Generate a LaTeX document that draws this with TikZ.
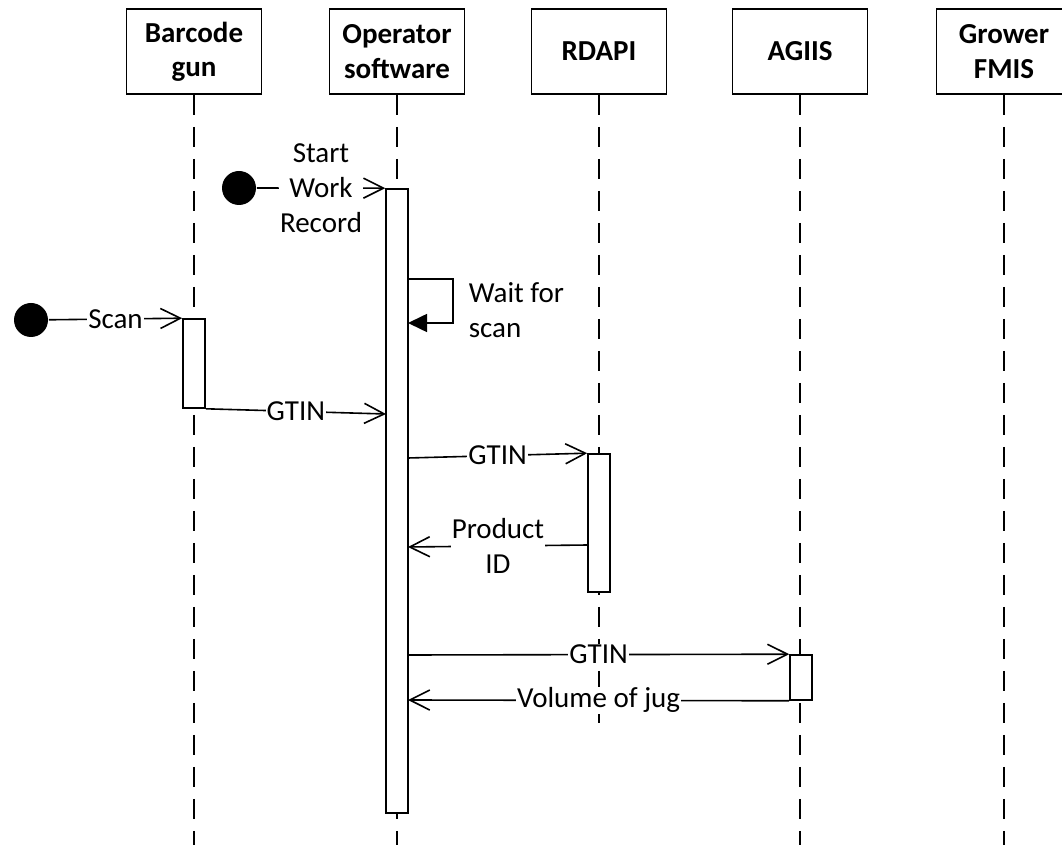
\documentclass[tikz,border=0pt]{standalone}
\usepackage{fontspec}
\setmainfont{Carlito}
\usetikzlibrary{arrows.meta}
\usetikzlibrary{fit}

\begin{document}
\begin{tikzpicture}[x=0.5pt,y=-0.5pt,
  font=\fontsize{14.5}{17.7}\selectfont,
  line width=0.8pt,
  head/.style={draw,fill=white,minimum width=67.5pt,minimum height=42.5pt,align=center,inner sep=0pt,font=\fontsize{14.5}{17.2}\selectfont\bfseries},
  lifeline/.style={dash pattern=on 10pt off 6pt},
  actbar/.style={draw,fill=white,inner sep=0pt},
  msg/.style={-{Straight Barb[length=10pt,width=10pt]}},
  selfmsg/.style={-{Triangle[length=9.5pt,width=9pt]}},
  lbl/.style={fill=white,inner sep=0.5pt,align=center},
  dot/.style={circle,fill=black,minimum size=17pt,inner sep=0pt}]

\clip (0,0) rectangle (1062,845);

\node[head] (bgun) at (194,51.5) {Barcode\\gun};
\node[head] (opsw) at (397,51.5) {Operator\\software};
\node[head] (rdapi) at (599,51.5) {RDAPI};
\node[head] (agiis) at (800,51.5) {AGIIS};
\node[head] (fmis) at (1004,51.5) {Grower\\FMIS};

\coordinate (bot) at (0,845);
\coordinate (rdend) at (0,732);
\draw[lifeline] (bgun.south) -- (bgun.south |- bot);
\draw[lifeline] (opsw.south) -- (opsw.south |- bot);
\draw[lifeline] (rdapi.south) -- (rdapi.south |- rdend);
\draw[lifeline] (agiis.south) -- (agiis.south |- bot);
\draw[lifeline] (fmis.south) -- (fmis.south |- bot);

\node[actbar, fit={(183,319) (205,408)}] (bgunbar) {};
\node[actbar, fit={(386,189) (408,813)}] (opbar) {};
\node[actbar, fit={(588,454) (610,592)}] (rdbar) {};
\node[actbar, fit={(790,655) (812,700)}] (agbar) {};

\node[dot] (startdot) at (239,188) {};
\node[dot] (scandot) at (31,320) {};

\draw[msg] (startdot) -- (opbar.north west) node[lbl,midway]{Start\\Work\\Record};
\draw[msg] (scandot) -- (bgunbar.north west) node[lbl,midway]{Scan};

\coordinate (w1) at (408,279);
\coordinate (w2) at (408,323);
\draw[selfmsg] (w1) -- ++(45,0) |- (w2);
\node[anchor=west,align=left,inner sep=0pt] (waitlbl) at (468,310) {Wait for\\scan};

\coordinate (g1) at (386,414);
\draw[msg] (bgunbar.south east) -- (g1) node[lbl,midway]{GTIN};
\coordinate (g2) at (408,458);
\draw[msg] (g2) -- (rdbar.north west) node[lbl,midway]{GTIN};
\coordinate (p1) at (588,545);
\coordinate (p2) at (408,547);
\draw[msg] (p1) -- (p2) node[lbl,midway]{Product\\ID};
\coordinate (g3) at (408,655);
\draw[msg] (g3) -- (agbar.north west) node[lbl,midway]{GTIN};
\coordinate (v1) at (408,700);
\draw[msg] (agbar.south west) -- (v1) node[lbl,midway]{Volume of jug};

\end{tikzpicture}
\end{document}
